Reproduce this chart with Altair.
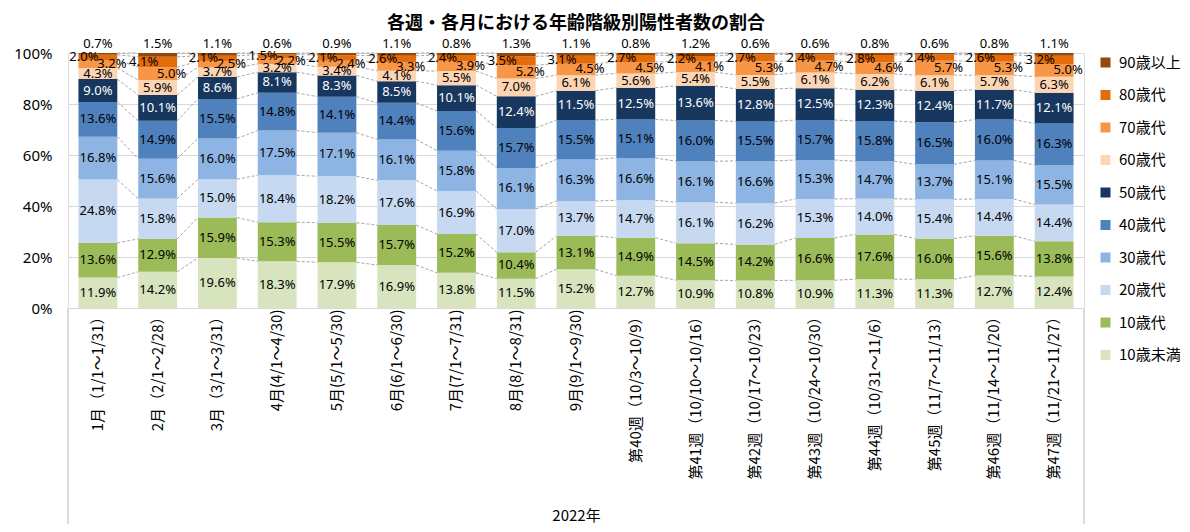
import altair as alt
import pandas as pd

categories = [
    "1月（1/1～1/31）", "2月（2/1～2/28）", "3月（3/1～3/31）",
    "4月(4/1～4/30)", "5月(5/1～5/30)", "6月(6/1～6/30)", "7月(7/1～7/31)",
    "8月(8/1～8/31)", "9月(9/1～9/30)",
    "第40週（10/3～10/9）", "第41週（10/10～10/16）", "第42週（10/17～10/23）",
    "第43週（10/24～10/30）", "第44週（10/31～11/6）", "第45週（11/7～11/13）",
    "第46週（11/14～11/20）", "第47週（11/21～11/27）",
]

age_groups = ["10歳未満", "10歳代", "20歳代", "30歳代", "40歳代",
              "50歳代", "60歳代", "70歳代", "80歳代", "90歳以上"]
group_colors = ["#D7E4BD", "#9BBB59", "#C6D9F1", "#8DB4E2", "#4F81BD",
                "#17375E", "#FCD5B4", "#F79646", "#E46C0A", "#974806"]

age_u10 = [11.9, 14.2, 19.6, 18.3, 17.9, 16.9, 13.8, 11.5, 15.2, 12.7, 10.9, 10.8, 10.9, 11.3, 11.3, 12.7, 12.4]
age_10s = [13.6, 12.9, 15.9, 15.3, 15.5, 15.7, 15.2, 10.4, 13.1, 14.9, 14.5, 14.2, 16.6, 17.6, 16.0, 15.6, 13.8]
age_20s = [24.8, 15.8, 15.0, 18.4, 18.2, 17.6, 16.9, 17.0, 13.7, 14.7, 16.1, 16.2, 15.3, 14.0, 15.4, 14.4, 14.4]
age_30s = [16.8, 15.6, 16.0, 17.5, 17.1, 16.1, 15.8, 16.1, 16.3, 16.6, 16.1, 16.6, 15.3, 14.7, 13.7, 15.1, 15.5]
age_40s = [13.6, 14.9, 15.5, 14.8, 14.1, 14.4, 15.6, 15.7, 15.5, 15.1, 16.0, 15.5, 15.7, 15.8, 16.5, 16.0, 16.3]
age_50s = [9.0, 10.1, 8.6, 8.1, 8.3, 8.5, 10.1, 12.4, 11.5, 12.5, 13.6, 12.8, 12.5, 12.3, 12.4, 11.7, 12.1]
age_60s = [4.3, 5.9, 3.7, 3.2, 3.4, 4.1, 5.5, 7.0, 6.1, 5.6, 5.4, 5.5, 6.1, 6.2, 6.1, 5.7, 6.3]
age_70s = [3.2, 5.0, 2.5, 2.2, 2.4, 3.3, 3.9, 5.2, 4.5, 4.5, 4.1, 5.3, 4.7, 4.6, 5.7, 5.3, 5.0]
age_80s = [2.0, 4.1, 2.1, 1.5, 2.1, 2.6, 2.4, 3.5, 3.1, 2.7, 2.2, 2.7, 2.4, 2.8, 2.4, 2.6, 3.2]
age_90p = [0.7, 1.5, 1.1, 0.6, 0.9, 1.1, 0.8, 1.3, 1.1, 0.8, 1.2, 0.6, 0.6, 0.8, 0.6, 0.8, 1.1]

series = [age_u10, age_10s, age_20s, age_30s, age_40s,
          age_50s, age_60s, age_70s, age_80s, age_90p]

# long table with normalized stack positions (Excel 100% stacked)
rows = []
tops = {}
for i, cat in enumerate(categories):
    total = sum(s[i] for s in series)
    cum = 0.0
    for k, s in enumerate(series):
        lo = cum / total
        cum += s[i]
        hi = cum / total
        tops[(i, k)] = hi
        rows.append({"cat": cat, "group": age_groups[k], "k": k, "value": s[i],
                     "lo": lo, "hi": hi, "mid": (lo + hi) / 2,
                     "label": f"{s[i]:.1f}%"})
df = pd.DataFrame(rows)

line_rows = []
for i in range(len(categories) - 1):
    for k in range(len(series)):
        line_rows.append({"cat": categories[i], "cat2": categories[i + 1], "k": k,
                          "y": tops[(i, k)], "y2": tops[(i + 1, k)]})
df_lines = pd.DataFrame(line_rows)

FONT = "Noto Sans CJK JP"
NUMFONT = "Noto Sans"
W, H = 1016, 255
BOTTOM = 216

x_enc = alt.X("cat:N", sort=categories,
              scale=alt.Scale(paddingInner=0.35, paddingOuter=0.175),
              axis=alt.Axis(title="2022年", labelAngle=270, labelAlign="right",
                            labelBaseline="middle", labelPadding=1, labelFontSize=15,
                            labelFont=FONT, labelColor="#000000", labelLimit=300,
                            ticks=False, domainColor="#d9d9d9", domainWidth=1,
                            titleFont=FONT, titleFontSize=15, titleFontWeight="normal",
                            titleColor="#000000", titleY=207, titleBaseline="middle"))
y_scale = alt.Scale(domain=[0, 1])
y_axis = alt.Axis(title=None, format=".0%", values=[0, 0.2, 0.4, 0.6, 0.8, 1.0],
                  labelFontSize=15, labelFont=NUMFONT, labelColor="#000000",
                  labelPadding=16, ticks=False, domain=False,
                  gridColor="#d9d9d9", gridWidth=1)

legend_order = age_groups[::-1]
legend_colors = group_colors[::-1]

bars = alt.Chart(df).mark_bar().encode(
    x=x_enc,
    y=alt.Y("value:Q", stack="normalize", scale=y_scale, axis=y_axis),
    order=alt.Order("k:Q", sort="ascending"),
    color=alt.Color("group:N", scale=alt.Scale(domain=legend_order, range=legend_colors),
                    legend=alt.Legend(title=None, orient="none", legendX=1030, legendY=2,
                                      symbolType="square", symbolSize=100,
                                      symbolStrokeWidth=0, labelFont=FONT,
                                      labelFontSize=15, labelColor="#000000",
                                      rowPadding=16.5, labelOffset=6, labelLimit=200)),
)

lines = alt.Chart(df_lines).mark_rule(
    xOffset=19.5, x2Offset=-19.5, strokeDash=[3, 2], color="#a6a6a6", strokeWidth=1
).encode(
    x=x_enc,
    x2="cat2",
    y=alt.Y("y:Q", scale=y_scale, axis=y_axis),
    y2="y2",
)

def text_layer(filter_expr, color="#000000", dx=0, dy=0, yfield="mid"):
    return alt.Chart(df).transform_filter(filter_expr).mark_text(
        font=NUMFONT, fontSize=13, color=color, dx=dx, dy=dy, baseline="middle"
    ).encode(
        x=x_enc,
        y=alt.Y(f"{yfield}:Q", scale=y_scale, axis=y_axis),
        text="label:N",
    )

t_main = text_layer("datum.k <= 6 && datum.k != 5")
t_50 = text_layer("datum.k == 5", color="#ffffff")
t_70 = text_layer("datum.k == 7", dx=14)
t_80 = text_layer("datum.k == 8", dx=-14)
t_90 = text_layer("datum.k == 9", dy=-9, yfield="hi")

frame = alt.Chart(df_lines).mark_rule(color="#d9d9d9", strokeWidth=1).encode(
    x=alt.value(0), y=alt.value(H), y2=alt.value(H + BOTTOM)
)
frame_r = alt.Chart(df_lines).mark_rule(color="#d9d9d9", strokeWidth=1).encode(
    x=alt.value(W), y=alt.value(H), y2=alt.value(H + BOTTOM)
)

chart = alt.layer(bars, lines, t_main, t_50, t_70, t_80, t_90, frame, frame_r).properties(
    width=W, height=H,
    title=alt.TitleParams("各週・各月における年齢階級別陽性者数の割合", font=FONT,
                          fontSize=18, fontWeight="bold", color="#000000",
                          anchor="middle", offset=5),
    autosize=alt.AutoSizeParams(type="none"),
    padding={"left": 60, "top": 45, "right": 98, "bottom": BOTTOM},
).configure_view(stroke=None).configure(background="#ffffff")

chart.save("out.html", embed_options={"renderer": "svg", "actions": False})
